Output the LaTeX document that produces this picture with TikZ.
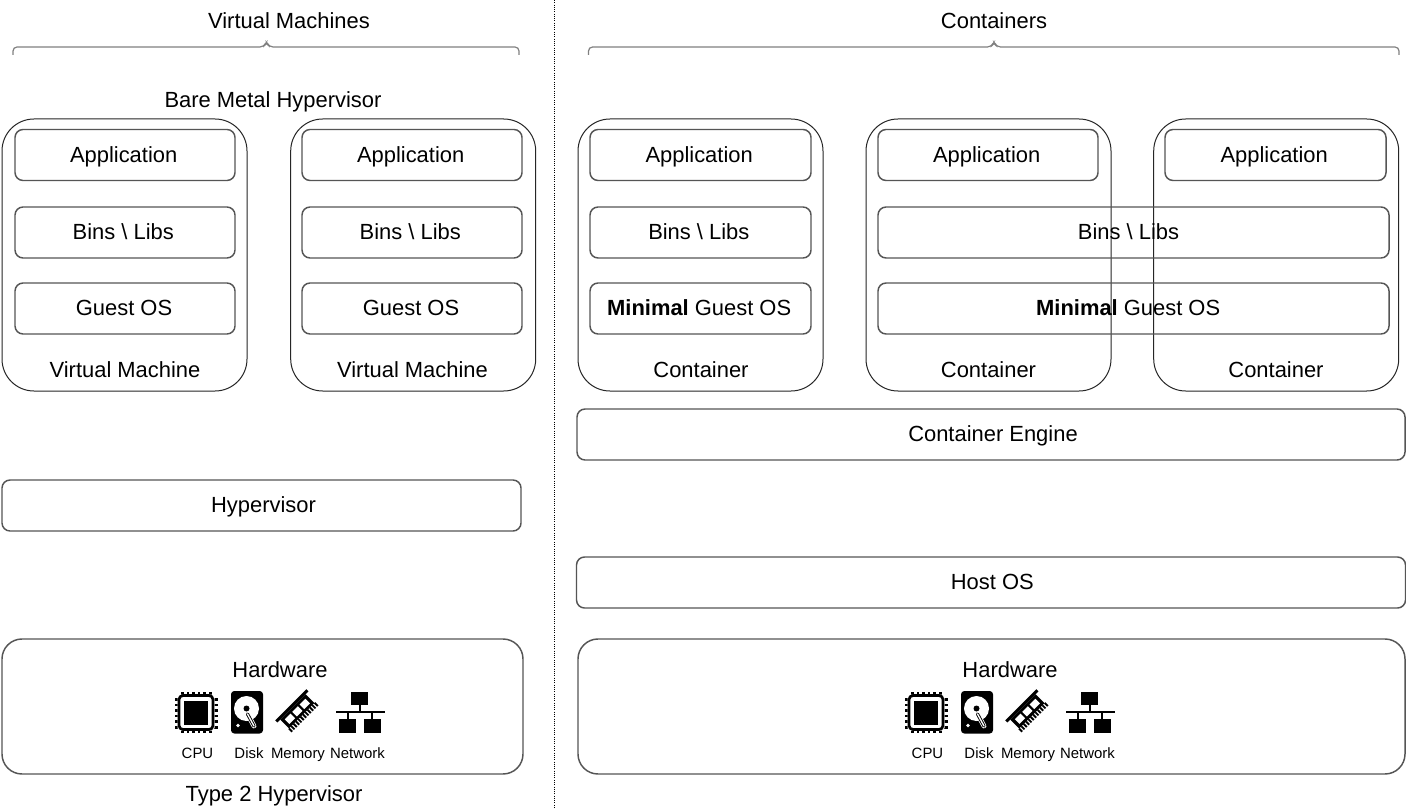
\documentclass[tikz,border=0pt]{standalone}
\usepackage{fontspec}
\setmainfont{Liberation Sans}
\definecolor{boxline}{HTML}{555555}
\definecolor{outerline}{HTML}{262626}
\definecolor{bracecol}{HTML}{808080}
\newcommand{\bigtxt}{\fontsize{16.45}{19}\selectfont}
\newcommand{\smalltxt}{\fontsize{11.2}{13}\selectfont}
\newcommand{\bsl}{\textbackslash}
\tikzset{
  x=0.75pt,y=-0.75pt,
  lbl/.style={font=\bigtxt,inner sep=0pt,text=black,text height=12pt,text depth=1pt},
  smalllbl/.style={font=\smalltxt,inner sep=0pt,text=black,text height=8pt,text depth=0.5pt},
  boxbase/.style={rectangle,draw,font=\bigtxt,inner sep=0pt,text=black,text height=12pt,text depth=1pt},
  inbox/.style={boxbase,draw=boxline,line width=1.1pt,rounded corners=6pt},
  outer/.style={boxbase,draw=outerline,line width=0.75pt,rounded corners=24pt},
  hwbox/.style={boxbase,draw=boxline,line width=1.1pt,rounded corners=15pt},
  w/.style={minimum width=#1*0.75pt},
  h/.style={minimum height=#1*0.75pt},
  bracep/.style={draw=bracecol,line width=0.9pt,rounded corners=3pt},
  sep/.style={draw=black,line width=0.7pt,densely dotted},
  hwicons/.pic={
    % CPU
    \foreach \t in {0,...,5}{
      \fill (181+\t*5.6,691.5) rectangle +(2.6,41.5);
      \fill (174.5,698+\t*5.6) rectangle +(43,2.6);
    }
    \fill[white,rounded corners=2pt] (177.5,694.5) rectangle (214.5,730.5);
    \draw[black,line width=2pt,rounded corners=3pt] (179,695.5) rectangle (213,729.5);
    \fill[black] (184,700.5) rectangle (208,724.5);
    % Disk
    \fill[rounded corners=2.5pt] (231,691) rectangle (263,733.5);
    \fill[white] (246.5,708.5) circle (12.5);
    \fill[black] (246.5,708.5) circle (3);
    \draw[white,line width=3.6pt,line cap=round] (247.5,714) -- (254,726);
    \draw[black,line width=2.4pt,line cap=round] (247.5,714) -- (254,726);
    \draw[white,line width=1pt,line cap=round] (247.5,714) -- (254,726);
    \fill[white] (238,725.5) circle (1.8);
    % Memory
    \begin{scope}[shift={(297.5,711.5)},rotate=45]
      \fill (-22,-9.5) rectangle (22,-6.5);
      \fill (-18,-6.5) rectangle (18,6);
      \fill[white] (-14.5,-3.5) rectangle (-6.5,3);
      \fill[white] (-4,-3.5) rectangle (4,3);
      \fill[white] (6.5,-3.5) rectangle (14.5,3);
      \foreach \t in {0,...,11}{
        \fill (-19+\t*3.3,6) rectangle +(1.9,4.5);
      }
    \end{scope}
    % Network
    \fill (351,692) rectangle (368,705);
    \fill (339,719) rectangle (356,732.5);
    \fill (364,719) rectangle (380.5,732.5);
    \draw[black,line width=1.5pt] (359.5,705) -- (359.5,712) (336,712) -- (384.5,712)
      (347.5,712) -- (347.5,719) (372,712) -- (372,719);
    % Labels
    \node[smalllbl] (cpulbl) at (197.5,753) {CPU};
    \node[smalllbl] (disklbl) at (249,753) {Disk};
    \node[smalllbl] (memlbl) at (298,753) {Memory};
    \node[smalllbl] (netlbl) at (357.5,753) {Network};
  }
}
\begin{document}
\begin{tikzpicture}
\useasboundingbox (0,0) rectangle (1406,809);
\fill[white] (0,0) rectangle (1406,809);

% separator
\coordinate (septop) at (554.7,0);
\coordinate (sepbot) at (554.7,809);
\draw[sep] (septop) -- (sepbot);

% headings
\node[lbl] (vmhead) at (289,21) {Virtual Machines};
\node[lbl] (cthead) at (994,21) {Containers};
\node[lbl] (bare) at (273,100) {Bare Metal Hypervisor};
\node[lbl] (type2) at (274,794) {Type 2 Hypervisor};

% braces
\draw[bracep,rounded corners=3pt] (13,55) -- (13,47) -- (264,47) -- (266.5,41.5) -- (269,47) -- (519,47) -- (519,55);
\draw[bracep,rounded corners=3pt] (588.5,55) -- (588.5,47) -- (991.5,47) -- (994,41.5) -- (996.5,47) -- (1399,47) -- (1399,55);

% virtual machines
\foreach \n/\cx in {a/124.5,b/413.2}{
  \node[outer,w=245,h=272] (vm\n) at (\cx,255) {};
}
\node[lbl] (vmlbla) at (125,370) {Virtual Machine};
\node[lbl] (vmlblb) at (412.5,370) {Virtual Machine};
\node[inbox,w=220,h=51] (appa) at (125,155) {Application\kern2pt};
\node[inbox,w=220,h=51] (binsa) at (125,232.5) {Bins \bsl{} Libs\kern2.5pt};
\node[inbox,w=220,h=51] (osa) at (125,308.5) {Guest OS\kern1.5pt};
\node[inbox,w=220,h=51] (appb) at (412,155) {Application\kern2pt};
\node[inbox,w=220,h=51] (binsb) at (412,232.5) {Bins \bsl{} Libs\kern2.5pt};
\node[inbox,w=220,h=51] (osb) at (412,308.5) {Guest OS\kern1.5pt};
\node[inbox,w=519,h=51] (hyper) at (261.5,505.5) {\hspace{3pt}Hypervisor};
\node[hwbox,w=521,h=135] (hwa) at (262.5,706.5) {};
\node[lbl] (hwalbl) at (280,670) {Hardware};
\pic (iconsa) at (0,0) {hwicons};

% containers
\node[outer,w=245,h=272] (ca) at (700.5,255) {};
\node[outer,w=245,h=272] (cb) at (988.5,255) {};
\node[outer,w=245,h=272] (cc) at (1276.2,255) {};
\node[lbl] (calbl) at (701,370) {Container};
\node[lbl] (cblbl) at (988.5,370) {Container};
\node[lbl] (cclbl) at (1276,370) {Container};
\node[inbox,w=221,h=51] (appc) at (700.5,155) {Application\kern2pt};
\node[inbox,w=221,h=51] (binsc) at (700.5,232.5) {Bins \bsl{} Libs\kern2.5pt};
\node[inbox,w=221,h=51] (osc) at (700.5,308.5) {\textbf{Minimal} Guest OS\kern2pt};
\node[inbox,w=220,h=51] (appd) at (988,155) {Application\kern2pt};
\node[inbox,w=221,h=51] (appe) at (1275.5,155) {Application\kern2pt};
\node[inbox,w=511,h=51] (binsd) at (1133.5,232.5) {Bins \bsl{} Libs\kern7.5pt};
\node[inbox,w=511,h=51] (osd) at (1133.5,308.5) {\textbf{Minimal} Guest OS\kern8pt};
\node[inbox,w=828,h=51] (engine) at (991,434.5) {\hspace{3pt}Container Engine};
\node[inbox,w=829,h=51] (hostos) at (991,582.5) {\hspace{2pt}Host OS};
\node[hwbox,w=827,h=135] (hwb) at (991.5,706.5) {};
\node[lbl] (hwblbl) at (1010,670) {Hardware};
\pic (iconsb) at (730,0) {hwicons};
\end{tikzpicture}
\end{document}
